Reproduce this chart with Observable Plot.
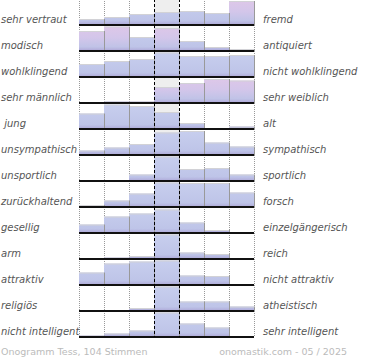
<!DOCTYPE html>
<html>
<head>
<meta charset="utf-8">
<script src="https://cdn.jsdelivr.net/npm/d3@7"></script>
<script src="https://cdn.jsdelivr.net/npm/@observablehq/plot@0.6"></script>
<style>
  html, body { margin: 0; padding: 0; background: #fff; }
  #chart svg { display: block; }
  #chart svg text { white-space: pre; }
  #footer {
    width: 370px; height: 20px; box-sizing: border-box;
    display: flex; justify-content: space-between;
    font-family: "DejaVu Sans", sans-serif; font-size: 9.5px; color: #bbb;
    line-height: 20px; padding: 2px 23px 0 1px;
  }
</style>
</head>
<body>
<div id="chart"></div>
<div id="footer"><span>Onogramm Tess, 104 Stimmen</span><span>onomastik.com - 05 / 2025</span></div>
<script>
// Left-hand (low) adjectives, one per row
const leftLabels = ["sehr vertraut", "modisch", "wohlklingend", "sehr männlich", " jung",
  "unsympathisch", "unsportlich", "zurückhaltend", "gesellig", "arm", "attraktiv",
  "religiös", "nicht intelligent"];
// Right-hand (high) adjectives, one per row
const rightLabels = ["fremd", "antiquiert", "nicht wohlklingend", "sehr weiblich", "alt",
  "sympathisch", "sportlich", "forsch", "einzelgängerisch", "reich", "nicht attraktiv",
  "atheistisch", "sehr intelligent"];
// Rating steps (7-point scale)
const steps = [0, 1, 2, 3, 4, 5, 6];
// Visible bar heights per row (share of votes, clipped at the row top = 24.5)
const ratings = [
  [6, 8, 11, 13, 14, 12, 24],
  [20, 24.5, 14, 23, 10, 4, 2],
  [13, 16, 18, 24.5, 21, 21, 22],
  [0, 1.5, 1.5, 16, 20, 24, 22.5],
  [15.5, 24.5, 23, 17, 6, 0, 2.5],
  [4.5, 7.5, 11, 22.5, 24, 12.5, 8.5],
  [0, 0.5, 6.5, 24.5, 12, 13, 6.5],
  [2, 6.5, 13.5, 24.5, 24, 24, 14.5],
  [8.5, 16.5, 19.5, 23.5, 10.5, 3, 0],
  [0, 1.5, 3, 24.5, 6.5, 5, 0],
  [12.5, 21.5, 23.5, 24.5, 9.5, 9, 0],
  [1, 0.5, 3, 24.5, 9.5, 9.5, 4.5],
  [1.5, 3.5, 6.5, 24.5, 13.5, 9.5, 0]
];
// Bars that are highlighted (row, step)
const highlighted = [[0, 6], [1, 0], [1, 1], [1, 3], [3, 3], [3, 4], [3, 5], [3, 6]];
const maxVisible = 24.5;

const rows = leftLabels.map((left, r) => ({r, left, right: rightLabels[r]}));
const bars = ratings.flatMap((vals, r) => vals.map((v, i) => ({
  r, c: steps[i], v: Math.min(v, maxVisible),
  hi: highlighted.some(([hr, hc]) => hr === r && hc === steps[i])
}))).filter(d => d.v > 0);
const rowIdx = d3.range(leftLabels.length);
const centre = steps[3];

const svg = Plot.plot({
  width: 370,
  height: 340,
  marginTop: -1,
  marginBottom: 3,
  marginLeft: 79,
  marginRight: 116,
  x: {domain: [0, steps.length], axis: null},
  y: {domain: [0, 26], axis: null},
  fy: {domain: rowIdx, axis: null, padding: 0},
  style: {fontFamily: "DejaVu Sans, sans-serif", fontSize: "10px", background: "white", overflow: "visible"},
  marks: [
    Plot.rect([centre], {x1: d => d, x2: d => d + 1, y1: () => 0, y2: () => 26, fill: "#eeeeee"}),
    Plot.ruleX([0, 1, 2, 5, 6, 7], {stroke: "#999", strokeDasharray: "1,1"}),
    Plot.rect(bars.filter(d => !d.hi), {fy: "r", x1: "c", x2: d => d.c + 1, y1: () => 0, y2: "v", fill: "url(#gBlue)"}),
    Plot.rect(bars.filter(d => d.hi), {fy: "r", x1: "c", x2: d => d.c + 1, y1: () => 0, y2: "v", fill: "url(#gPink)"}),
    Plot.ruleY(bars, {fy: "r", y: "v", x1: "c", x2: d => d.c + 1, stroke: "#d2d2d6"}),
    Plot.ruleX(bars, {fy: "r", x: d => d.c + 1, y1: () => 0, y2: "v", stroke: "#999"}),
    Plot.ruleY(rowIdx, {fy: d => d, y: () => 0, stroke: "#111", strokeWidth: 2, dy: -0.5}),
    Plot.ruleX([centre, centre + 1], {stroke: "#000", strokeDasharray: "3,2"}),
    Plot.text(rows, {fy: "r", frameAnchor: "bottom-left", lineAnchor: "middle", textAnchor: "start",
      text: "left", dx: -78.5, dy: -5.7, fontStyle: "italic", fill: "#555"}),
    Plot.text(rows, {fy: "r", frameAnchor: "bottom-right", lineAnchor: "middle", textAnchor: "start",
      text: "right", dx: 8.5, dy: -5.7, fontStyle: "italic", fill: "#555"})
  ]
});

// gradient definitions for the bars
const NS = "http://www.w3.org/2000/svg";
const defs = document.createElementNS(NS, "defs");
function grad(id, stops) {
  const g = document.createElementNS(NS, "linearGradient");
  g.setAttribute("id", id);
  g.setAttribute("gradientUnits", "userSpaceOnUse");
  g.setAttribute("x1", 0); g.setAttribute("y1", 0);
  g.setAttribute("x2", 0); g.setAttribute("y2", 26);
  for (const [o, c] of stops) {
    const s = document.createElementNS(NS, "stop");
    s.setAttribute("offset", o);
    s.setAttribute("stop-color", c);
    g.appendChild(s);
  }
  defs.appendChild(g);
}
grad("gBlue", [[0, "#c8cfee"], [0.8, "#bec4e8"], [0.9, "#b4b3de"], [1, "#a696cf"]]);
grad("gPink", [[0, "#dec7e8"], [0.45, "#d3c6ea"], [0.8, "#c0c3e7"], [0.9, "#b5b1dd"], [1, "#a696cf"]]);
svg.insertBefore(defs, svg.firstChild);

document.getElementById("chart").appendChild(svg);
</script>
</body>
</html>
